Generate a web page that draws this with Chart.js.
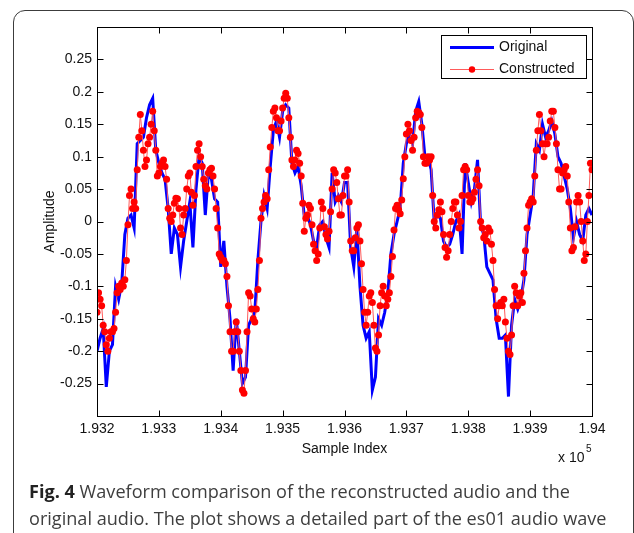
<!DOCTYPE html>
<html>
<head>
<meta charset="utf-8">
<script src="https://cdn.jsdelivr.net/npm/chart.js@4.4.1/dist/chart.umd.min.js"></script>
<style>
html, body { margin: 0; padding: 0; background: #fff; }
body { width: 634px; height: 533px; overflow: hidden; position: relative; }
#frame { position: absolute; left: 13px; top: 10px; width: 621px; height: 560px; box-sizing: border-box;
         border: 1.5px solid #3c3c3c; border-radius: 12px; }
#wrap { position: absolute; left: 0; top: 0; width: 634px; height: 533px; }
#caption { position: absolute; left: 29px; top: 478px; font-family: "Open Sans"; font-size: 18.1px;
           line-height: 27px; color: #3e3e3e; white-space: nowrap; }
#caption b { color: #222; }
</style>
</head>
<body>
<div id="frame"></div>
<div id="wrap"><canvas id="wave" width="634" height="533"></canvas></div>
<div id="caption"><b>Fig. 4</b> Waveform comparison of the reconstructed audio and the<br>original audio. The plot shows a detailed part of the es01 audio wave</div>
<script>
// sample index of first value, and spacing (in samples) of the read values
const X_START = 193200;
const ORIG_STEP = 5;
const CONS_STEP = 2.5;
const xTicks = [193200, 193300, 193400, 193500, 193600, 193700, 193800, 193900, 194000];
const yTicks = [-0.25, -0.2, -0.15, -0.1, -0.05, 0, 0.05, 0.1, 0.15, 0.2, 0.25];
const seriesNames = ['Original', 'Constructed'];

const original = [
  -0.20, -0.18, -0.165, -0.255, -0.2, -0.19, -0.1, -0.12, -0.095, -0.02,
  0.005, 0.01, -0.01, 0.12, 0.125, 0.13, 0.16, 0.18, 0.19, 0.11,
  0.09, 0.075, 0.065, 0.02, -0.05, -0.01, -0.02, -0.07, -0.03, 0.0,
  0.03, -0.04, 0.05, 0.1, 0.09, 0.01, 0.075, 0.065, 0.035, 0.03,
  -0.07, -0.03, -0.1, -0.15, -0.23, -0.15, -0.2, -0.25, -0.24, -0.16,
  -0.15, -0.14, -0.06, 0.0, 0.04, 0.02, 0.085, 0.14, 0.155, 0.13,
  0.17, 0.18, 0.175, 0.09, 0.075, 0.085, 0.055, 0.008, 0.008, -0.005,
  -0.03, -0.04, -0.005, 0.0, -0.025, -0.04, 0.075, 0.03, 0.04, 0.03,
  0.06, 0.06, -0.04, -0.07, -0.01, -0.1, -0.16, -0.18, -0.17, -0.26,
  -0.24, -0.15, -0.16, -0.14, -0.11, -0.05, -0.02, 0.0, 0.02, 0.09,
  0.12, 0.135, 0.12, 0.17, 0.185, 0.15, 0.1, 0.1, 0.08, 0.0,
  0.01, 0.005, -0.03, -0.04, -0.035, -0.02, 0.0, 0.01, -0.05, 0.09,
  0.06, 0.03, 0.05, 0.095, -0.005, -0.02, -0.07, -0.08, -0.09, -0.15,
  -0.18, -0.18, -0.175, -0.27, -0.16, -0.12, -0.135, -0.12, -0.09, -0.02,
  0.01, 0.04, 0.12, 0.11, 0.15, 0.13, 0.14, 0.155, 0.135, 0.1,
  0.09, 0.07, 0.05, 0.02, -0.025, 0.0, -0.02, -0.03, 0.01, 0.02,
  0.01
];

const constructed = [
  -0.14, -0.11, -0.12, -0.13, -0.16, -0.17, -0.19, -0.2, -0.18, -0.17,
  -0.17, -0.165, -0.14, -0.11, -0.10, -0.105, -0.095, -0.1, -0.09, -0.06,
  -0.005, 0.04, 0.05, 0.02, 0.03, 0.02, 0.08, 0.13, 0.165, 0.14,
  0.11, 0.085, 0.095, 0.12, 0.13, 0.15, 0.17, 0.14, 0.11, 0.07,
  0.075, 0.085, 0.09, 0.095, 0.085, 0.065, 0.02, 0.005, 0.0, 0.01,
  0.028, 0.036, 0.035, 0.02, -0.01, -0.02, 0.01, 0.02, 0.05, 0.07,
  0.075, 0.045, 0.025, 0.04, 0.085, 0.11, 0.12, 0.1, 0.085, 0.065,
  0.055, 0.05, 0.075, 0.08, 0.082, 0.07, 0.05, 0.02, -0.01, -0.05,
  -0.055, -0.06, -0.06, -0.065, -0.085, -0.13, -0.17, -0.2, -0.2, -0.17,
  -0.155, -0.17, -0.2, -0.23, -0.26, -0.265, -0.23, -0.17, -0.11, -0.115,
  -0.135, -0.15, -0.155, -0.135, -0.105, -0.06, 0.005, 0.02, 0.03, 0.04,
  0.035, 0.08, 0.115, 0.145, 0.17, 0.175, 0.16, 0.14, 0.14, 0.155,
  0.175, 0.19, 0.198, 0.19, 0.16, 0.13, 0.095, 0.085, 0.095, 0.11,
  0.105, 0.09, 0.07, 0.028, -0.015, 0.005, 0.01, 0.025, 0.02, -0.005,
  -0.035, -0.045, -0.06, -0.05, -0.01, 0.03, 0.02, -0.008, -0.02, -0.027,
  -0.015, 0.015, 0.05, 0.08, 0.075, 0.06, 0.035, 0.01, 0.01, 0.04,
  0.07, 0.07, 0.08, 0.03, -0.03, -0.045, -0.045, -0.025, -0.01, -0.005,
  -0.03, -0.065, -0.105, -0.14, -0.16, -0.14, -0.115, -0.11, -0.125, -0.16,
  -0.195, -0.2, -0.175, -0.13, -0.11, -0.1, -0.115, -0.13, -0.12, -0.11,
  -0.085, -0.054, -0.013, 0.02, 0.025, 0.018, 0.012, 0.033, 0.066, 0.1,
  0.135, 0.15, 0.14, 0.125, 0.11, 0.13, 0.16, 0.17, 0.168, 0.165,
  0.145, 0.1, 0.09, 0.09, 0.10, 0.095, 0.1, 0.04, 0.0, -0.01,
  0.01, 0.018, 0.03, 0.015, -0.02, -0.04, -0.055, -0.045, -0.02, 0.0,
  0.02, 0.03, 0.03, 0.01, -0.01, 0.0, 0.04, 0.08, 0.085, 0.08,
  0.04, 0.03, 0.03, 0.035, 0.045, 0.065, 0.08, 0.055, 0.0, -0.01,
  -0.025, -0.02, -0.03, -0.01, -0.015, -0.035, -0.06, -0.105, -0.13, -0.15,
  -0.13, -0.125, -0.13, -0.12, -0.155, -0.18, -0.2, -0.205, -0.175, -0.13,
  -0.1, -0.11, -0.13, -0.115, -0.11, -0.125, -0.08, -0.045, -0.01, 0.025,
  0.03, 0.035, 0.03, 0.07, 0.11, 0.14, 0.165, 0.14, 0.12, 0.1,
  0.12, 0.12, 0.13, 0.155, 0.17, 0.17, 0.145, 0.12, 0.08, 0.05,
  0.05, 0.075, 0.08, 0.085, 0.07, 0.03, -0.01, -0.045, -0.04, -0.008,
  0.03, 0.04, 0.03, 0.0, -0.03, -0.06, -0.05, 0.0, 0.04, 0.09,
  0.08
];

const toPoints = (arr, step) => arr.map((v, i) => ({ x: X_START + i * step, y: v }));
const axisFont = { family: 'Liberation Sans', size: 14 };

// plot box, inward tick marks on all four sides, legend and the x10^5 note
const boxPlugin = {
  id: 'box',
  afterDatasetsDraw(chart) {
    const { ctx, chartArea: a, scales: { x, y } } = chart;
    const L = Math.round(a.left) + 0.5, R = Math.round(a.right) + 0.5;
    const T = Math.round(a.top) + 0.5, B = Math.round(a.bottom) + 0.5;
    ctx.save();
    ctx.strokeStyle = '#000';
    ctx.lineWidth = 1;
    ctx.strokeRect(L, T, R - L, B - T);
    ctx.beginPath();
    xTicks.forEach(v => {
      const px = Math.round(x.getPixelForValue(v)) + 0.5;
      ctx.moveTo(px, B); ctx.lineTo(px, B - 6);
      ctx.moveTo(px, T); ctx.lineTo(px, T + 6);
    });
    yTicks.forEach(v => {
      const py = Math.round(y.getPixelForValue(v)) + 0.5;
      ctx.moveTo(L, py); ctx.lineTo(L + 6, py);
      ctx.moveTo(R, py); ctx.lineTo(R - 6, py);
    });
    ctx.stroke();

    // legend
    const lx = 441.5, ly = 35.5, lw = 145, lh = 43;
    ctx.fillStyle = '#fff';
    ctx.fillRect(lx, ly, lw, lh);
    ctx.strokeRect(lx, ly, lw, lh);
    const ds = chart.data.datasets;
    ctx.strokeStyle = ds[0].borderColor;
    ctx.lineWidth = 2.8;
    ctx.beginPath(); ctx.moveTo(450, 47.5); ctx.lineTo(494, 47.5); ctx.stroke();
    ctx.strokeStyle = ds[1].borderColor;
    ctx.lineWidth = 1;
    ctx.beginPath(); ctx.moveTo(450, 69.5); ctx.lineTo(494, 69.5); ctx.stroke();
    ctx.fillStyle = ds[1].pointBackgroundColor;
    ctx.beginPath(); ctx.arc(472, 69.5, 3.2, 0, Math.PI * 2); ctx.fill();
    ctx.fillStyle = '#111';
    ctx.font = '14px "Liberation Sans"';
    ctx.textBaseline = 'middle';
    ctx.textAlign = 'left';
    ctx.fillText(ds[0].label, 499, 47.5);
    ctx.fillText(ds[1].label, 499, 69.5);

    // exponent note under the axis
    ctx.fillText('x 10', 558, 458);
    ctx.font = '10px "Liberation Sans"';
    ctx.fillText('5', 586, 449);
    ctx.restore();
  }
};

new Chart(document.getElementById('wave'), {
  type: 'line',
  data: {
    datasets: [
      {
        label: seriesNames[0],
        data: toPoints(original, ORIG_STEP),
        borderColor: '#0000ff',
        borderWidth: 3,
        pointRadius: 0,
        tension: 0,
        order: 1
      },
      {
        label: seriesNames[1],
        data: toPoints(constructed, CONS_STEP),
        borderColor: '#ff5a5a',
        borderWidth: 1,
        pointRadius: 3.5,
        pointBackgroundColor: '#ff0000',
        pointBorderWidth: 0,
        pointBorderColor: '#ff0000',
        tension: 0,
        order: 0
      }
    ]
  },
  options: {
    responsive: false,
    animation: false,
    layout: { padding: { left: 0, top: 27, right: 42, bottom: 0 } },
    plugins: {
      legend: { display: false },
      tooltip: { enabled: false }
    },
    scales: {
      x: {
        type: 'linear',
        min: 193200,
        max: 194000,
        afterBuildTicks: s => { s.ticks = xTicks.map(v => ({ value: v })); },
        afterFit: s => { s.height = 117; },
        grid: { display: false, drawTicks: false },
        border: { display: false },
        ticks: {
          padding: 5,
          color: '#111',
          font: axisFont,
          maxRotation: 0,
          callback: v => String(Number((v / 1e5).toFixed(3)))
        },
        title: { display: true, text: 'Sample Index', color: '#111', font: axisFont, padding: { top: 0, bottom: 75 } }
      },
      y: {
        type: 'linear',
        min: -0.3,
        max: 0.3,
        afterBuildTicks: s => { s.ticks = yTicks.map(v => ({ value: v })); },
        afterFit: s => { s.width = 97; },
        grid: { display: false, drawTicks: false },
        border: { display: false },
        ticks: {
          padding: 5,
          color: '#111',
          font: axisFont,
          callback: v => String(Number(v.toFixed(2)))
        },
        title: { display: true, text: 'Amplitude', color: '#111', font: axisFont, padding: { top: 42, bottom: 0 } }
      }
    }
  },
  plugins: [boxPlugin]
});
</script>
</body>
</html>
